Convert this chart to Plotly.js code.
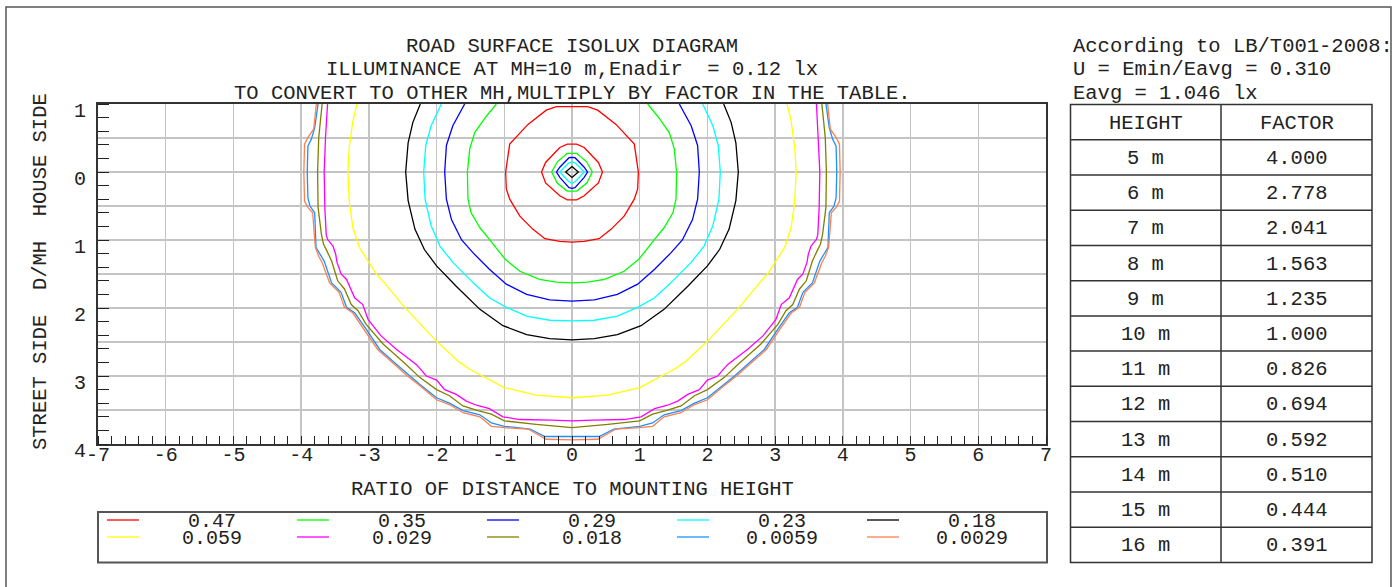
<!DOCTYPE html>
<html>
<head>
<meta charset="utf-8">
<script src="https://cdn.plot.ly/plotly-3.0.1.min.js"></script>
<style>html,body{margin:0;padding:0;background:#fff;}#chart{width:1399px;height:587px;}</style>
</head>
<body>
<div id="chart"></div>
<script>
// ---------- DATA (left half of each isolux curve, D/MH units; y>0 = street side) ----------
const levels = ["0.47","0.35","0.29","0.23","0.18","0.059","0.029","0.018","0.0059","0.0029"];
const levelColors = ["#ff0000","#00ff00","#0000ff","#00ffff","#000000","#ffff00","#ff00ff","#808000","#1e90ff","#ff7f50"];

// 0.47 lx (outer ring and inner ring around nadir)
const l047a_x = [0,-0.23,-0.38,-0.65,-0.92,-0.98,-0.97,-0.92,-0.77,-0.58,-0.40,-0.18,0];
const l047a_y = [-0.96,-0.96,-0.91,-0.70,-0.41,0,0.25,0.40,0.65,0.84,0.98,1.02,1.03];
const l047b_x = [0,-0.07,-0.18,-0.39,-0.45,-0.39,-0.18,-0.07,0];
const l047b_y = [-0.41,-0.41,-0.36,-0.14,0,0.16,0.35,0.41,0.41];
// 0.35 lx
const l035a_x = [-1.117,-1.265,-1.437,-1.51,-1.545,-1.536,-1.49,-1.36,-1.22,-0.99,-0.77,-0.48,-0.23,0];
const l035a_y = [-1.0,-0.82,-0.58,-0.34,0,0.40,0.60,0.82,0.99,1.28,1.46,1.58,1.62,1.63];
const l035b_x = [0,-0.07,-0.216,-0.30,-0.216,-0.07,0];
const l035b_y = [-0.275,-0.275,-0.15,0,0.166,0.28,0.28];
// 0.29 lx
const l029a_x = [-1.585,-1.76,-1.855,-1.88,-1.855,-1.78,-1.63,-1.46,-1.22,-0.97,-0.67,-0.33,0];
const l029a_y = [-1.0,-0.68,-0.39,0,0.40,0.70,1.0,1.19,1.43,1.65,1.80,1.88,1.90];
const l029b_x = [0,-0.044,-0.18,-0.23,-0.18,-0.044,0];
const l029b_y = [-0.215,-0.21,-0.07,0,0.08,0.23,0.24];
// 0.23 lx
const l023a_x = [-1.93,-2.08,-2.16,-2.19,-2.17,-2.08,-1.95,-1.76,-1.46,-1.22,-0.97,-0.67,-0.33,0];
const l023a_y = [-1.0,-0.68,-0.39,0,0.40,0.79,1.09,1.33,1.63,1.85,1.99,2.12,2.18,2.19];
const l023b_x = [0,-0.05,-0.18,-0.05,0];
const l023b_y = [-0.15,-0.13,0,0.14,0.166];
// 0.18 lx
const l018a_x = [-2.24,-2.35,-2.42,-2.456,-2.42,-2.32,-2.18,-2.0,-1.71,-1.36,-1.02,-0.67,-0.33,0];
const l018a_y = [-1.0,-0.73,-0.43,0,0.42,0.84,1.14,1.38,1.68,2.02,2.26,2.39,2.45,2.47];
const l018b_x = [0,-0.093,0];
const l018b_y = [-0.08,0,0.08];
// 0.059 lx
const l0059_x = [-3.176,-3.235,-3.29,-3.31,-3.29,-3.235,-3.14,-3.01,-2.89,-2.77,-2.47,-2.0,-1.66,-1.51,-1.0,-0.53,0];
const l0059_y = [-1.0,-0.75,-0.36,0,0.43,0.82,1.11,1.31,1.50,1.63,1.99,2.49,2.80,2.90,3.17,3.28,3.32];
// 0.029 lx
const l0029_x = [-3.61,-3.64,-3.66,-3.65,-3.63,-3.61,-3.53,-3.49,-3.47,-3.41,-3.33,-3.21,-3.09,-3.01,-2.82,-2.59,-2.30,-2.15,-2.0,-1.88,-1.71,-1.56,-1.41,-1.22,-1.02,-0.77,-0.30,0];
const l0029_y = [-1.0,-0.51,0,0.52,0.92,0.99,1.09,1.21,1.33,1.50,1.58,1.85,1.95,2.17,2.41,2.61,2.83,3.0,3.06,3.20,3.27,3.37,3.43,3.48,3.60,3.64,3.65,3.66];
// 0.018 lx
const l0018_x = [-3.69,-3.74,-3.757,-3.75,-3.70,-3.67,-3.62,-3.55,-3.46,-3.36,-3.26,-3.16,-3.04,-2.79,-2.45,-2.25,-2.0,-1.81,-1.61,-1.39,-1.19,-1.0,-0.53,0];
const l0018_y = [-1.0,-0.51,0,0.52,0.92,1.06,1.16,1.31,1.60,1.72,1.95,2.04,2.24,2.53,2.83,3.02,3.20,3.29,3.44,3.51,3.56,3.66,3.71,3.76];
// 0.0059 lx
const l00059_x = [-3.75,-3.80,-3.85,-3.90,-3.91,-3.90,-3.87,-3.80,-3.78,-3.72,-3.66,-3.55,-3.41,-3.33,-3.21,-3.04,-2.84,-2.59,-2.40,-2.25,-2.0,-1.81,-1.61,-1.36,-1.19,-1.0,-0.62,-0.40,0];
const l00059_y = [-1.0,-0.65,-0.48,-0.38,0,0.38,0.50,0.60,1.11,1.21,1.31,1.63,1.77,1.99,2.07,2.31,2.61,2.83,3.0,3.12,3.32,3.40,3.51,3.57,3.69,3.74,3.78,3.89,3.89];
// 0.0029 lx
const l00029_x = [-3.775,-3.815,-3.90,-3.95,-3.96,-3.95,-3.90,-3.83,-3.79,-3.74,-3.69,-3.58,-3.44,-3.36,-3.24,-3.07,-2.87,-2.62,-2.43,-2.25,-2.0,-1.81,-1.61,-1.36,-1.19,-1.0,-0.65,-0.38,0];
const l00029_y = [-1.0,-0.63,-0.51,-0.41,0,0.43,0.52,0.60,1.11,1.24,1.33,1.63,1.77,1.99,2.07,2.31,2.61,2.83,3.0,3.14,3.35,3.42,3.54,3.60,3.74,3.76,3.78,3.93,3.94];

// axis ticks / labels
const xTickVals = [-7,-6,-5,-4,-3,-2,-1,0,1,2,3,4,5,6,7];
const xTickText = ["-7","-6","-5","-4","-3","-2","-1","0","1","2","3","4","5","6","7"];
const yGridVals = [-1,-0.5,0,0.5,1,1.5,2,2.5,3,3.5,4];
const yLabelVals = [-1,0,1,2,3,4];
const yLabelText = ["1","0","1","2","3","4"];

// texts
const titleLines = ["ROAD SURFACE ISOLUX DIAGRAM","ILLUMINANCE AT MH=10 m,Enadir\u00A0\u00A0= 0.12 lx","TO CONVERT TO OTHER MH,MULTIPLY BY FACTOR IN THE TABLE."];
const infoLines = ["According to LB/T001-2008:","U = Emin/Eavg = 0.310","Eavg = 1.046 lx"];
const xTitle = "RATIO OF DISTANCE TO MOUNTING HEIGHT";
const yTitle = "STREET SIDE\u00A0\u00A0D/MH\u00A0\u00A0HOUSE SIDE";
const tableHeader = ["HEIGHT","FACTOR"];
const heights = ["5 m","6 m","7 m","8 m","9 m","10 m","11 m","12 m","13 m","14 m","15 m","16 m"];
const factors = ["4.000","2.778","2.041","1.563","1.235","1.000","0.826","0.694","0.592","0.510","0.444","0.391"];

// ---------- BUILD ----------
const W = 1399, H = 587;
const PX = v => v / W, PY = v => 1 - v / H;
const FONT = "Liberation Mono, Courier New, monospace";
const TXT = "#222222";

function mirror(xs, ys) {
  const X = xs.slice(), Y = ys.slice();
  for (let i = xs.length - 1; i >= 0; i--) {
    if (i === xs.length - 1 && xs[i] === 0) continue;
    X.push(-xs[i]); Y.push(ys[i]);
  }
  return {x: X, y: Y};
}
const curves = [
  [l047a_x,l047a_y,0],[l047b_x,l047b_y,0],
  [l035a_x,l035a_y,1],[l035b_x,l035b_y,1],
  [l029a_x,l029a_y,2],[l029b_x,l029b_y,2],
  [l023a_x,l023a_y,3],[l023b_x,l023b_y,3],
  [l018a_x,l018a_y,4],[l018b_x,l018b_y,4],
  [l0059_x,l0059_y,5],[l0029_x,l0029_y,6],[l0018_x,l0018_y,7],
  [l00059_x,l00059_y,8],[l00029_x,l00029_y,9]
];
const traces = curves.map(c => {
  const m = mirror(c[0], c[1]);
  return {type:"scatter", mode:"lines", x:m.x, y:m.y, hoverinfo:"skip", showlegend:false,
          line:{color:levelColors[c[2]], width:1.3}};
});

const shapes = [];
const annotations = [];
function line(x0,y0,x1,y1,color,width){shapes.push({type:"line",xref:"paper",yref:"paper",x0:PX(x0),y0:PY(y0),x1:PX(x1),y1:PY(y1),line:{color:color,width:width}});}
function rect(x0,y0,x1,y1,color,width){shapes.push({type:"rect",xref:"paper",yref:"paper",x0:PX(x0),y0:PY(y0),x1:PX(x1),y1:PY(y1),line:{color:color,width:width},fillcolor:"rgba(0,0,0,0)"});}
function text(t,x,y,anchor,size,angle){annotations.push({text:t,xref:"paper",yref:"paper",x:PX(x),y:PY(y),xanchor:anchor||"center",yanchor:"middle",showarrow:false,textangle:angle||0,font:{family:FONT,size:size||20.5,color:TXT}});}

// outer frame
rect(6,7,1391,640,"#555",1.5);
// titles
[46,70,93].forEach((y,i)=>text(titleLines[i],572,y,"center"));
[46,70,93].forEach((y,i)=>text(infoLines[i],1071,y,"left"));
// axis titles
text(xTitle,572,489,"center");
text(yTitle,40,272,"center",20.5,-90);
// y tick labels (sit slightly below their tick, as in the source)
yLabelVals.forEach((v,i)=>annotations.push({text:yLabelText[i],xref:"paper",yref:"y",x:PX(88),y:v,yshift:-7,
  xanchor:"right",yanchor:"middle",showarrow:false,font:{family:FONT,size:20,color:TXT}}));
// legend
rect(98,512,1047,562.5,"#555",2);
levels.forEach((lv,i)=>{
  const col = i % 5, row = Math.floor(i/5);
  const yy = row === 0 ? 520 : 537;
  line(107+190*col, yy, 139+190*col, yy, levelColors[i], 1.3);
  text(lv, 212+190*col, yy+1, "center", 20);
});
// table
const tTop = 104.5, tBot = 562.5, tL = 1070.5, tM = 1221, tR = 1372;
const rowH = (tBot - tTop) / (heights.length + 1);
rect(tL,tTop,tR,tBot,"#333",1.5);
line(tM,tTop,tM,tBot,"#333",1.5);
for (let i = 1; i <= heights.length; i++) line(tL,tTop+rowH*i,tR,tTop+rowH*i,"#333",1.5);
text(tableHeader[0],(tL+tM)/2,tTop+rowH/2+1,"center");
text(tableHeader[1],(tM+tR)/2,tTop+rowH/2+1,"center");
heights.forEach((h,i)=>{
  const cy = tTop + rowH*(i+1.5) + 1;
  text(h,(tL+tM)/2,cy,"center");
  text(factors[i],(tM+tR)/2,cy,"center");
});

const layout = {
  width: W, height: H, autosize:false,
  margin:{l:0,r:0,t:0,b:0},
  paper_bgcolor:"#ffffff", plot_bgcolor:"#ffffff",
  showlegend:false,
  xaxis:{domain:[98/W,1046/W], range:[-7,7], autorange:false, tickmode:"array", tickvals:xTickVals, ticktext:xTickText,
         ticks:"", showgrid:true, gridcolor:"#c4c4c4", gridwidth:1.3, zeroline:false,
         showline:true, mirror:true, linecolor:"#333", linewidth:1.6,
         tickfont:{family:FONT,size:20,color:TXT}, ticklabelstandoff:-9,
         minor:{tickmode:"linear", tick0:0, dtick:0.2, ticks:"inside", ticklen:8, tickcolor:"#222", tickwidth:1, showgrid:false},
         fixedrange:true},
  yaxis:{domain:[1-444/H,1-104/H], range:[4,-1], autorange:false, tickmode:"array", tickvals:yGridVals,
         showticklabels:false,
         ticks:"", showgrid:true, gridcolor:"#c4c4c4", gridwidth:1.3, zeroline:false,
         showline:true, mirror:true, linecolor:"#333", linewidth:1.6,
         minor:{tickmode:"linear", tick0:0, dtick:0.2, ticks:"inside", ticklen:11, tickcolor:"#222", tickwidth:1, showgrid:false},
         fixedrange:true},
  shapes: shapes,
  annotations: annotations
};
Plotly.newPlot("chart", traces, layout, {staticPlot:true, displayModeBar:false});
</script>
</body>
</html>
